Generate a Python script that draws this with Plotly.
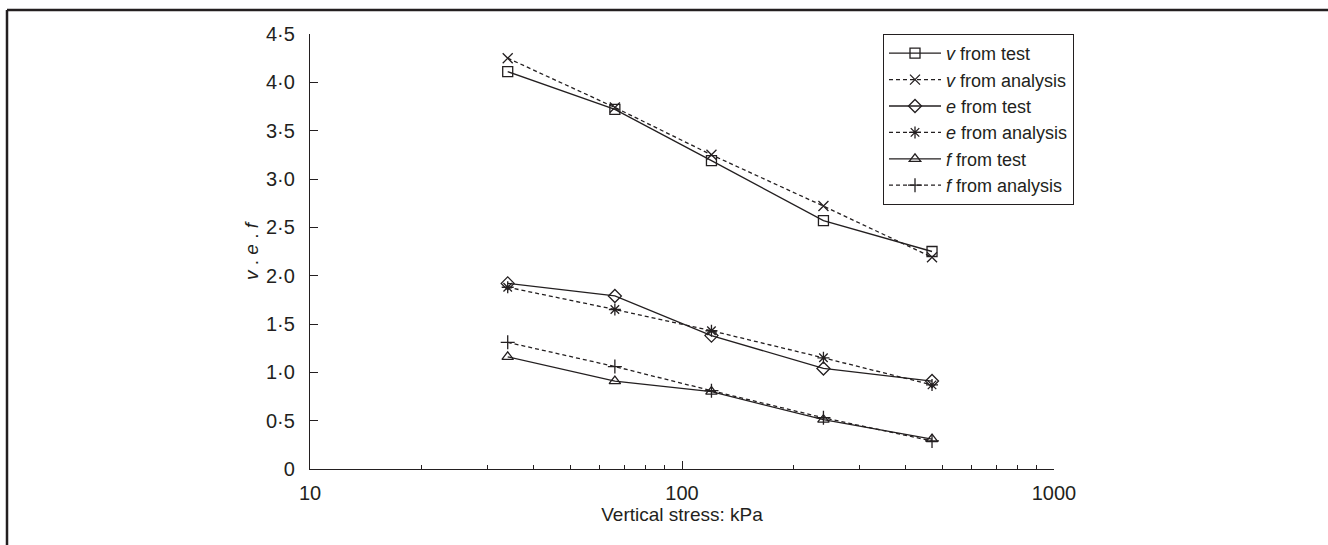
import plotly.graph_objects as go

stress = [34, 66, 120, 240, 470]
v_test = [4.11, 3.72, 3.19, 2.57, 2.25]
v_analysis = [4.25, 3.74, 3.25, 2.72, 2.19]
e_test = [1.92, 1.79, 1.38, 1.04, 0.91]
e_analysis = [1.88, 1.65, 1.43, 1.15, 0.87]
f_test = [1.16, 0.91, 0.80, 0.51, 0.31]
f_analysis = [1.31, 1.06, 0.81, 0.53, 0.29]

y_tickvals = [0, 0.5, 1.0, 1.5, 2.0, 2.5, 3.0, 3.5, 4.0, 4.5]
y_ticktext = ["0", "0·5", "1·0", "1·5", "2·0", "2·5", "3·0", "3·5", "4·0", "4·5"]
x_tickvals = [10, 100, 1000]
x_ticktext = ["10", "100", "1000"]

series = [
    ("<i>v</i> from test", v_test, "solid", "square-open"),
    ("<i>v</i> from analysis", v_analysis, "dash", "x-thin-open"),
    ("<i>e</i> from test", e_test, "solid", "diamond-open"),
    ("<i>e</i> from analysis", e_analysis, "dash", "asterisk-open"),
    ("<i>f</i> from test", f_test, "solid", "triangle-up-open"),
    ("<i>f</i> from analysis", f_analysis, "dash", "cross-thin-open"),
]

fig = go.Figure()
for name, ys, dash, sym in series:
    fig.add_trace(go.Scatter(
        x=stress, y=ys, name=name, mode="lines+markers",
        line=dict(color="#231f20", width=1.3, dash="4px,3px" if dash == "dash" else "solid"),
        marker=dict(symbol=sym, size=10, color="#231f20", line=dict(color="#231f20", width=1.3)),
    ))

W, H = 1328, 545
L, R, T, B = 310, 1328 - 1054, 34, 545 - 469
pw, ph = W - L - R, H - T - B

fig.update_layout(
    width=W, height=H,
    margin=dict(l=L, r=R, t=T, b=B),
    paper_bgcolor="white", plot_bgcolor="white",
    font=dict(family="Liberation Sans, Arial, sans-serif", color="#231f20", size=18),
    showlegend=True,
    legend=dict(
        x=(883 - L) / pw, y=1.0, xanchor="left", yanchor="top",
        bordercolor="#231f20", borderwidth=1, bgcolor="white",
        font=dict(size=18), tracegroupgap=0, itemwidth=52,
    ),
    xaxis=dict(
        type="log", range=[1, 3], tickvals=x_tickvals, ticktext=x_ticktext,
        ticks="inside", ticklen=8, tickwidth=1.3, tickcolor="#231f20",
        showline=True, linecolor="#231f20", linewidth=1.3, mirror=False,
        showgrid=False, zeroline=False,
        tickfont=dict(size=20), ticklabelstandoff=6,
        minor=dict(ticks="inside", ticklen=4, tickwidth=1.3, tickcolor="#231f20",
                   tickvals=[20, 30, 40, 50, 60, 70, 80, 90, 200, 300, 400, 500, 600, 700, 800, 900],
                   showgrid=False),
        title=dict(text="Vertical stress: kPa", font=dict(size=19), standoff=4),
    ),
    yaxis=dict(
        range=[0, 4.5], tickvals=y_tickvals, ticktext=y_ticktext,
        ticks="inside", ticklen=8, tickwidth=1.3, tickcolor="#231f20",
        showline=True, linecolor="#231f20", linewidth=1.3,
        showgrid=False, zeroline=False,
        tickfont=dict(size=20), ticklabelstandoff=10,
        title=dict(text="<i>v</i> . <i>e</i> . <i>f</i>", font=dict(size=19), standoff=2),
    ),
)

# frame lines around figure (top and left)
x_left = (7 - L) / pw
x_right = (W - L) / pw
y_top = 1 + (T - 10) / ph
y_bot = -(B + 5) / ph
fig.add_shape(type="line", xref="paper", yref="paper", x0=x_left, x1=x_right, y0=y_top, y1=y_top,
              line=dict(color="#231f20", width=2.5))
fig.add_shape(type="line", xref="paper", yref="paper", x0=x_left, x1=x_left, y0=y_top, y1=y_bot,
              line=dict(color="#231f20", width=2.5))

fig.write_html("out.html")
